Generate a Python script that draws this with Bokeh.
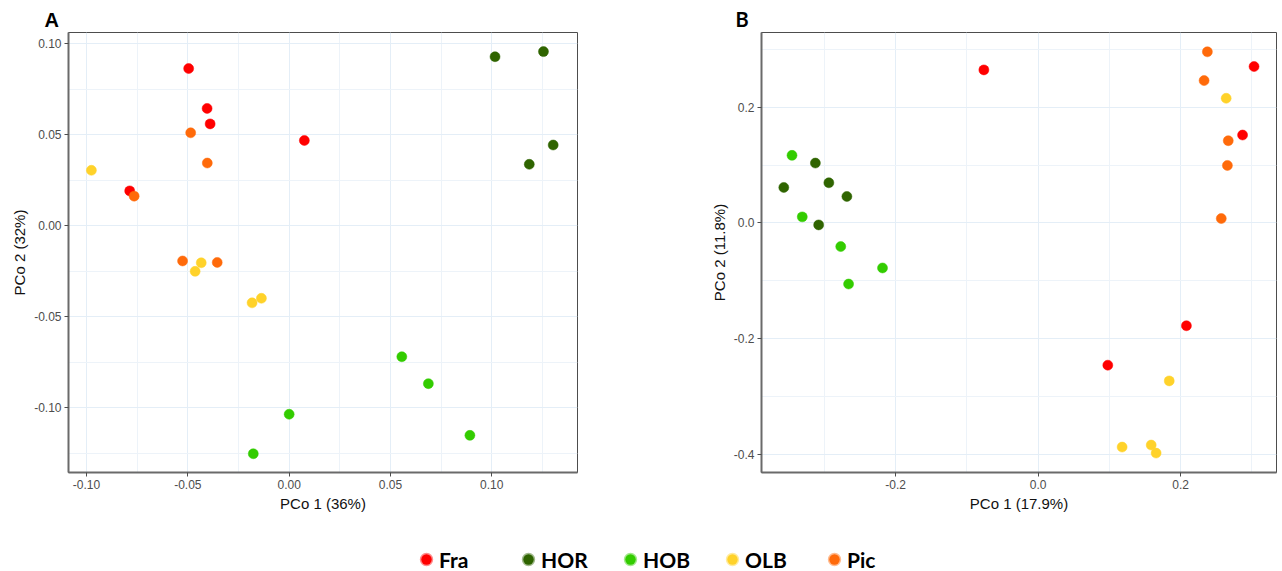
import numpy as np
from bokeh.plotting import figure
from bokeh.models import Range1d, FixedTicker, Legend, LegendItem
from bokeh.layouts import column, row
from bokeh.embed import file_html
from bokeh.resources import INLINE

# ---------------- data ----------------
groups = ["Fra", "HOR", "HOB", "OLB", "Pic"]
group_colors = ["#FF0000", "#2F6400", "#33CC00", "#FFD22A", "#FF6A0A"]

# Panel A  (PCo 1 36%, PCo 2 32%)
a_fra_x = [-0.0496, -0.0405, -0.0390, 0.0075, -0.0787]
a_fra_y = [0.0864, 0.0645, 0.0560, 0.0469, 0.0192]
a_hor_x = [0.1016, 0.1255, 0.1303, 0.1185]
a_hor_y = [0.0929, 0.0957, 0.0444, 0.0338]
a_hob_x = [0.0556, 0.0687, 0.0000, 0.0892, -0.0177]
a_hob_y = [-0.0719, -0.0867, -0.1035, -0.1151, -0.1252]
a_olb_x = [-0.0976, -0.0434, -0.0464, -0.0183, -0.0137]
a_olb_y = [0.0305, -0.0203, -0.0250, -0.0423, -0.0398]
a_pic_x = [-0.0486, -0.0404, -0.0765, -0.0526, -0.0355]
a_pic_y = [0.0511, 0.0345, 0.0163, -0.0193, -0.0201]

# Panel B  (PCo 1 17.9%, PCo 2 11.8%)
b_fra_x = [-0.0762, 0.3029, 0.2868, 0.2080, 0.0977]
b_fra_y = [0.2647, 0.2705, 0.1520, -0.1780, -0.2462]
b_hor_x = [-0.3569, -0.3126, -0.2937, -0.2684, -0.3080]
b_hor_y = [0.0613, 0.1035, 0.0694, 0.0457, -0.0035]
b_hob_x = [-0.3454, -0.3310, -0.2770, -0.2184, -0.2660]
b_hob_y = [0.1168, 0.0104, -0.0410, -0.0780, -0.1058]
b_olb_x = [0.2638, 0.1839, 0.1178, 0.1586, 0.1655]
b_olb_y = [0.2156, -0.2734, -0.3879, -0.3844, -0.3983]
b_pic_x = [0.2374, 0.2328, 0.2667, 0.2655, 0.2569]
b_pic_y = [0.2960, 0.2462, 0.1422, 0.0994, 0.0075]

a_xticks = [-0.10, -0.05, 0.00, 0.05, 0.10]
a_xtick_labels = ["-0.10", "-0.05", "0.00", "0.05", "0.10"]
a_xminor = [-0.125, -0.075, -0.025, 0.025, 0.075, 0.125]
a_yticks = [-0.10, -0.05, 0.00, 0.05, 0.10]
a_ytick_labels = ["-0.10", "-0.05", "0.00", "0.05", "0.10"]
a_yminor = [-0.125, -0.075, -0.025, 0.025, 0.075, 0.125]

b_xticks = [-0.2, 0.0, 0.2]
b_xtick_labels = ["-0.2", "0.0", "0.2"]
b_xminor = [-0.3, -0.1, 0.1, 0.3]
b_yticks = [-0.4, -0.2, 0.0, 0.2]
b_ytick_labels = ["-0.4", "-0.2", "0.0", "0.2"]
b_yminor = [-0.3, -0.1, 0.1, 0.3]

a_series = [(a_fra_x, a_fra_y), (a_hor_x, a_hor_y), (a_hob_x, a_hob_y),
            (a_olb_x, a_olb_y), (a_pic_x, a_pic_y)]
b_series = [(b_fra_x, b_fra_y), (b_hor_x, b_hor_y), (b_hob_x, b_hob_y),
            (b_olb_x, b_olb_y), (b_pic_x, b_pic_y)]


def make_panel(series, letter, letter_font, letter_offset, xr, yr, xt, xtl, xm, yt, ytl, ym,
               xlabel, ylabel, width, height, bl, br, bt, bb):
    p = figure(width=width, height=height, x_range=Range1d(*xr), y_range=Range1d(*yr),
               output_backend="svg", toolbar_location=None,
               min_border_left=bl, min_border_right=br, min_border_top=bt, min_border_bottom=bb,
               background_fill_color="white", border_fill_color="white")
    p.outline_line_color = "#4D4D4D"
    p.outline_line_width = 1

    xtk = FixedTicker(ticks=xt, minor_ticks=xm)
    ytk = FixedTicker(ticks=yt, minor_ticks=ym)
    p.xaxis.ticker = xtk
    p.yaxis.ticker = ytk
    p.xgrid.ticker = xtk
    p.ygrid.ticker = ytk
    p.xaxis.major_label_overrides = dict(zip(xt, xtl))
    p.yaxis.major_label_overrides = dict(zip(yt, ytl))
    p.xaxis.axis_label = xlabel
    p.yaxis.axis_label = ylabel
    for ax in (p.xaxis, p.yaxis):
        ax.axis_line_color = "#6A6A6A"
        ax.axis_line_width = 2
        ax.major_tick_out = 4
        ax.major_tick_in = 0
        ax.minor_tick_out = 0
        ax.minor_tick_in = 0
        ax.major_tick_line_color = "#4D4D4D"
        ax.major_tick_line_width = 1
        ax.major_label_text_font = "Liberation Sans"
        ax.major_label_text_font_size = "12px"
        ax.major_label_text_color = "#4D4D4D"
        ax.major_label_standoff = 3
        ax.axis_label_text_font = "Liberation Sans"
        ax.axis_label_text_font_size = "15px"
        ax.axis_label_text_font_style = "normal"
        ax.axis_label_text_color = "#111111"
        ax.axis_label_standoff = 3
    for g in (p.xgrid, p.ygrid):
        g.grid_line_color = "#E4EEF7"
        g.grid_line_width = 1
        g.minor_grid_line_color = "#EDF3F9"
        g.minor_grid_line_width = 1

    for (xs, ys), c in zip(series, group_colors):
        p.scatter(x=xs, y=ys, size=10, fill_color=c, line_color=c, line_width=0.5)

    p.title.text = letter
    p.title.align = "left"
    p.title.offset = letter_offset
    p.title.standoff = 4
    p.title.text_font = letter_font
    p.title.text_font_size = "20px"
    p.title.text_font_style = "bold"
    p.title.text_color = "black"
    return p


pA = make_panel(a_series, "A", "Liberation Sans", -24, (-0.1089, 0.1423), (-0.1355, 0.1062),
                a_xticks, a_xtick_labels, a_xminor, a_yticks, a_ytick_labels, a_yminor,
                "PCo 1 (36%)", "PCo 2 (32%)", 640, 530, 68, 63, 32, 55)
pB = make_panel(b_series, "B", "Lato", -26, (-0.3882, 0.3344), (-0.4319, 0.3294),
                b_xticks, b_xtick_labels, b_xminor, b_yticks, b_ytick_labels, b_yminor,
                "PCo 1 (17.9%)", "PCo 2 (11.8%)", 642, 530, 121, 6, 32, 58)

# ---------------- legend strip ----------------
leg = figure(width=1282, height=41, x_range=Range1d(0, 1), y_range=Range1d(0, 1),
             output_backend="svg", toolbar_location=None, min_border=0,
             x_axis_location=None, y_axis_location=None,
             background_fill_color="white", border_fill_color="white")
leg.outline_line_color = None
leg.grid.visible = False
items = []
for g, c in zip(groups, group_colors):
    r = leg.scatter(x=[np.nan], y=[np.nan], size=10, fill_color=c, line_color=c,
                    line_alpha=0.45, line_width=3)
    items.append(LegendItem(label=g, renderers=[r]))
legend = Legend(items=items, orientation="horizontal", location=(413, -1),
                glyph_width=26, glyph_height=26, label_standoff=-2, label_width=76,
                label_height=26, spacing=0, padding=0, margin=0,
                border_line_alpha=0, background_fill_alpha=0,
                label_text_font="Lato", label_text_font_style="bold",
                label_text_font_size="21px", label_text_color="black")
leg.add_layout(legend, "center")

layout = column(row(pA, pB, spacing=0), leg, spacing=0)
open("out.html", "w").write(file_html(layout, INLINE))
